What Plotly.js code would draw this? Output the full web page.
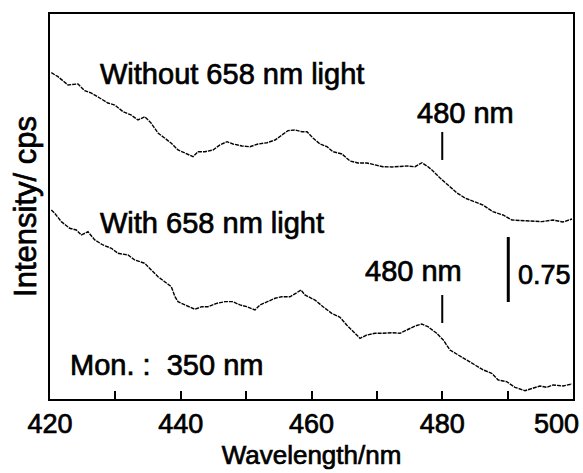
<!DOCTYPE html>
<html>
<head>
<meta charset="utf-8">
<script src="https://cdn.plot.ly/plotly-3.0.1.min.js"></script>
<style>
html,body{margin:0;padding:0;background:#fff;}
#chart{width:583px;height:473px;}
#chart svg text{stroke:#000;stroke-width:0.7px;}
</style>
</head>
<body>
<div id="chart"></div>
<script>
// Wavelength (nm) and intensity (cps, arbitrary offset)
var wlWithout = [420.2,421.22,422.75,424.28,425.31,426.27,427.6,428.87,429.9,431.17,432.39,433.46,434.49,435.45,436.52,437.54,438.51,439.27,439.58,440.65,441.87,442.64,443.71,444.93,446.0,447.07,447.99,449.37,450.59,451.82,453.19,454.42,455.49,456.4,457.48,458.55,459.31,460.23,461.3,462.37,463.29,464.66,465.89,467.11,468.49,469.71,470.94,472.31,473.54,474.61,475.83,476.9,477.82,478.43,479.66,480.88,482.26,483.48,485.01,486.23,487.76,489.29,490.67,492.2,493.73,495.26,496.94,498.47,499.85];
var intWithout = [3.765,3.719,3.623,3.635,3.557,3.531,3.473,3.415,3.392,3.315,3.277,3.219,3.257,3.185,3.069,3.011,2.954,2.896,2.873,2.838,2.796,2.853,2.853,2.873,2.931,2.969,2.942,2.919,2.911,2.942,2.957,2.988,3.046,3.096,3.104,3.084,3.084,3.011,2.942,2.911,2.853,2.827,2.746,2.723,2.723,2.700,2.680,2.677,2.680,2.688,2.680,2.726,2.680,2.642,2.550,2.469,2.377,2.319,2.276,2.238,2.161,2.123,2.065,2.057,2.046,2.046,2.065,2.042,2.077];
var wlWith = [420.2,420.72,421.73,423.01,424.02,424.79,425.81,426.84,428.11,429.38,430.4,431.93,432.96,434.49,435.49,436.52,437.54,438.55,439.12,439.58,440.65,442.18,443.2,444.17,445.5,446.77,447.99,449.06,450.09,451.36,452.12,453.35,454.42,455.44,456.71,457.74,458.39,459.0,460.53,461.76,463.09,464.36,465.38,466.65,467.42,468.44,469.71,470.94,472.27,473.54,474.56,475.83,476.86,477.82,479.15,480.16,481.18,482.41,483.74,485.01,486.28,487.56,488.57,489.86,491.13,492.66,493.68,494.95,495.98,496.94,498.47,499.85];
var intWith = [2.181,2.143,2.046,1.970,1.950,1.892,1.930,1.835,1.777,1.739,1.681,1.662,1.604,1.566,1.488,1.411,1.353,1.296,1.180,1.123,1.085,1.035,1.065,1.065,1.104,1.123,1.123,1.085,1.065,1.027,1.085,1.123,1.162,1.180,1.180,1.226,1.258,1.200,1.142,1.065,0.989,0.943,0.854,0.758,0.700,0.738,0.758,0.758,0.765,0.758,0.796,0.842,0.865,0.834,0.758,0.681,0.565,0.508,0.450,0.392,0.335,0.297,0.219,0.200,0.135,0.096,0.123,0.150,0.135,0.162,0.150,0.173];
var tickVals = [420,430,440,450,460,470,480,490,500];
var tickText = ['420','','440','','460','','480','',''];
var seriesNames = ['Without 658 nm light','With 658 nm light'];
var markWl = 480;
var scaleBarValue = 0.75;

var FONT = 'Liberation Sans, Arial, sans-serif';
var lineStyle = {color:'#000', width:1.4, dash:'4px,1px'};

var traces = [
  {x: wlWithout, y: intWithout, mode:'lines', line: lineStyle, name: seriesNames[0], hoverinfo:'skip'},
  {x: wlWith, y: intWith, mode:'lines', line: lineStyle, name: seriesNames[1], hoverinfo:'skip'}
];

var sbY0 = 1.119;
var layout = {
  width:583, height:473,
  margin:{l:50, r:10, t:14, b:74},
  paper_bgcolor:'#fff', plot_bgcolor:'#fff',
  showlegend:false,
  font:{family:FONT, color:'#000'},
  xaxis:{
    range:[420,500], showgrid:false, zeroline:false,
    showline:true, mirror:true, linecolor:'#000', linewidth:2,
    ticks:'inside', ticklen:8, tickwidth:2, tickcolor:'#000',
    tickvals: tickVals, ticktext: tickText,
    tickfont:{size:27, family:FONT, color:'#000'},
    title:{text:'Wavelength/nm', font:{size:26, family:FONT, color:'#000'}, standoff:7}
  },
  yaxis:{
    range:[0,4.442], showgrid:false, zeroline:false,
    showline:true, mirror:true, linecolor:'#000', linewidth:2,
    ticks:'', showticklabels:false,
    title:{text:'Intensity/ cps', font:{size:31, family:FONT, color:'#000'}, standoff:2}
  },
  shapes:[
    {type:'line', xref:'x', yref:'y', x0:markWl, x1:markWl, y0:2.758, y1:3.081, line:{color:'#000', width:2}},
    {type:'line', xref:'x', yref:'y', x0:markWl, x1:markWl, y0:0.877, y1:1.200, line:{color:'#000', width:2}},
    {type:'line', xref:'x', yref:'y', x0:490.1, x1:490.1, y0:sbY0, y1:sbY0+scaleBarValue, line:{color:'#000', width:3}}
  ],
  annotations:[
    {xref:'x', yref:'y', x:427.34, y:3.75, text:seriesNames[0], showarrow:false, xanchor:'left', yanchor:'middle', font:{size:29}},
    {xref:'x', yref:'y', x:427.34, y:2.036, text:seriesNames[1], showarrow:false, xanchor:'left', yanchor:'middle', font:{size:29}},
    {xref:'x', yref:'y', x:483.63, y:3.30, text:markWl+' nm', showarrow:false, xanchor:'center', yanchor:'middle', font:{size:29}},
    {xref:'x', yref:'y', x:475.53, y:1.477, text:markWl+' nm', showarrow:false, xanchor:'center', yanchor:'middle', font:{size:29}},
    {xref:'x', yref:'y', x:422.75, y:0.392, text:'Mon. :  350 nm', showarrow:false, xanchor:'left', yanchor:'middle', font:{size:29}},
    {xref:'x', yref:'y', x:491.3, y:1.431, text:String(scaleBarValue), showarrow:false, xanchor:'left', yanchor:'middle', font:{size:27}},
    {xref:'x', yref:'paper', x:497.4, y:0, yshift:-8, text:'500', showarrow:false, xanchor:'center', yanchor:'top', font:{size:27}}
  ]
};

Plotly.newPlot('chart', traces, layout, {displayModeBar:false, staticPlot:true});
</script>
</body>
</html>
